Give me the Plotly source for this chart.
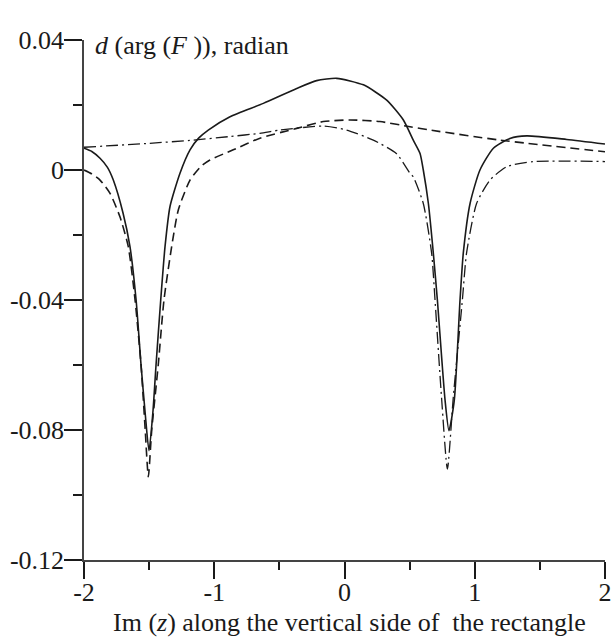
import plotly.graph_objects as go

# Solid curve
solid_x = [-2.0, -1.94, -1.877, -1.82, -1.775, -1.70, -1.647, -1.60, -1.562, -1.53, -1.501, -1.47, -1.447, -1.411,
           -1.378, -1.34, -1.263, -1.186, -1.12, -1.046, -0.879, -0.623, -0.367, -0.214, -0.06, 0.145, 0.324,
           0.452, 0.528, 0.58, 0.605, 0.644, 0.682, 0.713, 0.772, 0.802, 0.843, 0.887, 0.912, 0.964,
           1.04, 1.143, 1.27, 1.40, 1.706, 2.0]
solid_y = [0.0067, 0.0057, 0.0036, 0.0008, -0.0031, -0.0133, -0.0236, -0.040, -0.060, -0.075, -0.0864, -0.074, -0.060, -0.040,
           -0.0236, -0.0113, -0.001, 0.0062, 0.0098, 0.0123, 0.0164, 0.0205, 0.0251, 0.0275, 0.0282, 0.0262, 0.0215,
           0.0154, 0.0092, 0.0051, 0.0, -0.0103, -0.0256, -0.040, -0.0708, -0.0802, -0.0708, -0.040, -0.0256, -0.0103,
           0.0, 0.0067, 0.0097, 0.0105, 0.0094, 0.008]

# Dashed curve
dash_x = [-2.0, -1.94, -1.877, -1.80, -1.724, -1.66, -1.608, -1.562, -1.53, -1.506, -1.48, -1.43, -1.386,
          -1.327, -1.276, -1.186, -1.10, -1.033, -0.854, -0.649, -0.367, -0.163, 0.042, 0.272, 0.503, 0.656,
          1.194, 2.0]
dash_y = [0.0, -0.0012, -0.0031, -0.0072, -0.0144, -0.0236, -0.040, -0.060, -0.080, -0.0944, -0.080, -0.060, -0.040,
          -0.0236, -0.0123, -0.0031, 0.0012, 0.0031, 0.0062, 0.0098, 0.0128, 0.0149, 0.0154, 0.0149, 0.0133, 0.0123,
          0.0092, 0.0056]

# Dash-dot curve
dd_x = [-2.0, -1.5, -1.16, -0.879, -0.649, -0.495, -0.163, 0.016, 0.221, 0.40, 0.503, 0.528, 0.605,
        0.669, 0.695, 0.745, 0.79, 0.835, 0.905, 0.937, 1.014, 1.117, 1.245, 1.45, 2.0]
dd_y = [0.0070, 0.0082, 0.0092, 0.0103, 0.0113, 0.0123, 0.0135, 0.0123, 0.0092, 0.005, -0.001, -0.0021, -0.0103,
        -0.0256, -0.040, -0.070, -0.092, -0.070, -0.040, -0.0256, -0.0103, -0.0031, 0.001, 0.0026, 0.0026]

x_ticks = [-2, -1, 0, 1, 2]
x_tick_labels = ["-2", "-1", "0", "1", "2"]
y_ticks = [0.04, 0, -0.04, -0.08, -0.12]
y_tick_labels = ["0.04", "0", "-0.04", "-0.08", "-0.12"]

FONT = "Liberation Serif"
INK = "#1a1a1a"
FS = 26

fig = go.Figure()
fig.add_trace(go.Scatter(x=solid_x, y=solid_y, mode="lines",
                         line=dict(color=INK, width=1.6, shape="spline", smoothing=0.6)))
fig.add_trace(go.Scatter(x=dash_x, y=dash_y, mode="lines",
                         line=dict(color=INK, width=1.6, dash="9px,5px", shape="spline", smoothing=0.6)))
fig.add_trace(go.Scatter(x=dd_x, y=dd_y, mode="lines",
                         line=dict(color=INK, width=1.3, dash="12px,4px,2px,4px", shape="spline", smoothing=0.6)))

fig.update_layout(
    width=615, height=639,
    margin=dict(l=84, r=10, t=40, b=79),
    paper_bgcolor="white", plot_bgcolor="white",
    showlegend=False,
    font=dict(family=FONT, size=FS, color=INK),
    xaxis=dict(range=[-2, 2], showgrid=False, zeroline=False, showline=True, linecolor="#444", linewidth=1.5,
               automargin=False, ticklabelstandoff=-9,
               tickmode="array", tickvals=x_ticks, ticktext=x_tick_labels,
               ticks="outside", ticklen=17, tickwidth=1.5, tickcolor=INK,
               minor=dict(ticks="outside", ticklen=8, tickwidth=1.5, tickcolor=INK, dtick=0.5, tick0=-2)),
    yaxis=dict(range=[-0.12, 0.04], showgrid=False, zeroline=False, showline=True, linecolor="#444", linewidth=1.5,
               automargin=False, ticklabelstandoff=-5,
               tickmode="array", tickvals=y_ticks, ticktext=y_tick_labels,
               ticks="outside", ticklen=18, tickwidth=1.5, tickcolor=INK,
               minor=dict(ticks="outside", ticklen=9, tickwidth=1.5, tickcolor=INK, dtick=0.02, tick0=0)),
    annotations=[
        dict(text="<i>d</i> (arg (<i>F</i> )), radian", x=0.017, y=0.99, xref="paper", yref="paper",
             xanchor="left", yanchor="middle", showarrow=False, font=dict(size=FS, family=FONT)),
        dict(text="Im (<i>z</i>) along the vertical side of  the rectangle", x=0.51, y=-0.12,
             xref="paper", yref="paper", xanchor="center", yanchor="middle", showarrow=False,
             font=dict(size=FS, family=FONT)),
    ],
)

fig.write_html(
    "out.html",
    config={"displayModeBar": False},
    post_script="document.body.style.margin='0';document.body.style.padding='0';"
                "document.body.style.overflow='hidden';",
)
